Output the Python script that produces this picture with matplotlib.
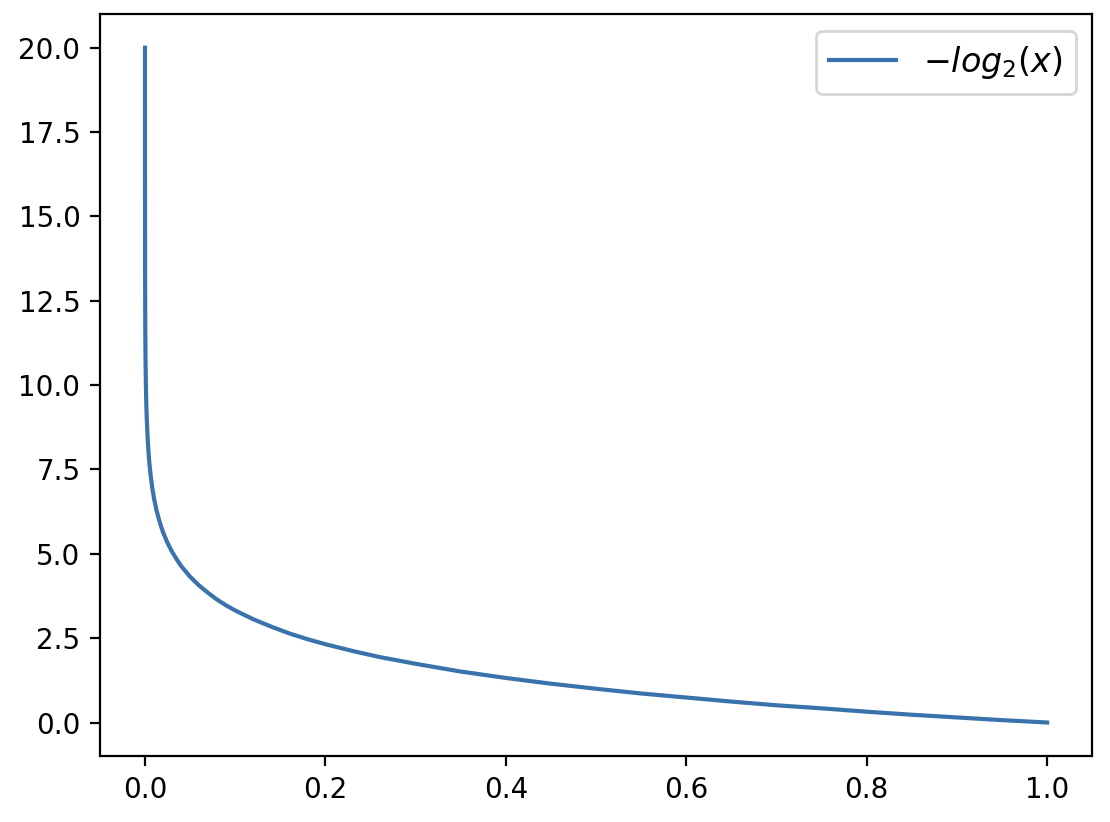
import matplotlib
matplotlib.use("Agg")
import matplotlib.pyplot as plt

# points
x = [0.00000095, 0.00001, 0.0001, 0.0003, 0.0006, 0.001, 0.0015, 0.002, 0.003, 0.004,
     0.005, 0.0065, 0.008, 0.01, 0.0125, 0.015, 0.0175, 0.02, 0.025, 0.03,
     0.035, 0.04, 0.05, 0.06, 0.07, 0.08, 0.09, 0.1, 0.12, 0.14,
     0.16, 0.18, 0.2, 0.23, 0.26, 0.3, 0.35, 0.4, 0.45, 0.5,
     0.55, 0.6, 0.65, 0.7, 0.75, 0.8, 0.85, 0.9, 0.95, 1.0]
y = [20.0, 16.61, 13.29, 11.70, 10.70, 9.97, 9.38, 8.97, 8.38, 7.97,
     7.64, 7.27, 6.97, 6.64, 6.32, 6.06, 5.84, 5.64, 5.32, 5.06,
     4.84, 4.64, 4.32, 4.06, 3.84, 3.64, 3.47, 3.32, 3.06, 2.84,
     2.64, 2.47, 2.32, 2.12, 1.94, 1.74, 1.51, 1.32, 1.15, 1.00,
     0.86, 0.74, 0.62, 0.51, 0.42, 0.32, 0.23, 0.15, 0.07, 0.0]

fig = plt.figure(figsize=(5.55, 4.11), dpi=200)
ax = fig.add_axes([0.090, 0.080, 0.894, 0.903])
ax.plot(x, y, color="#3a73ab", lw=1.5, label=r"$-log_2(x)$")
ax.legend(fontsize=12)
fig.savefig("out.png", dpi=200)
